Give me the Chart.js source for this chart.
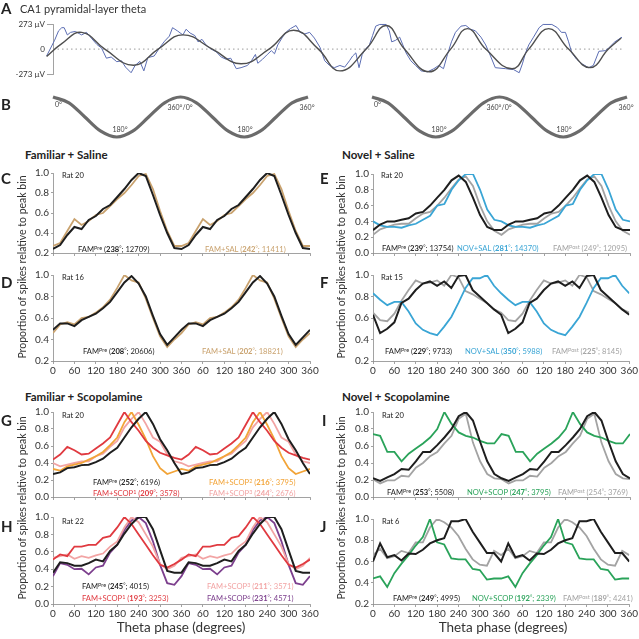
<!DOCTYPE html>
<html>
<head>
<meta charset="utf-8">
<script src="https://cdn.jsdelivr.net/npm/chart.js@4.4.1/dist/chart.umd.min.js"></script>
<style>
  html, body { margin: 0; padding: 0; background: #fff; }
  #fig { position: relative; width: 639px; height: 639px; overflow: hidden; font-family: Lato, "Open Sans", sans-serif; color: #222; }
  #fig canvas { position: absolute; }
  .t { position: absolute; white-space: nowrap; line-height: 1; z-index: 2; }
  .t sup { font-size: 72%; vertical-align: 0; position: relative; top: -0.45em; }
  .letter { font-weight: 700; font-size: 15px; }
  .head { font-weight: 700; font-size: 11.5px; }
  .lg { font-size: 7.6px; }
  .deg { font-size: 7px; color: #444; }
  .ytitle { font-size: 10.5px; color: #333; }
  .xtitle { font-size: 13.5px; color: #333; }
</style>
</head>
<body>
<div id="fig"></div>
<script>
// ---- data ----
// A: raw LFP trace and fitted theta (time in ms, amplitude in µV)
var traceMs = [0, 10, 15, 19, 22, 26, 30, 36, 44, 50, 56, 63, 69, 75, 81, 88, 94, 99, 106, 111, 117, 122, 127, 135,
  142, 148, 154, 158, 164, 171, 175, 180, 186, 190, 195, 200, 206, 213, 219, 225, 231, 238, 244, 252, 257, 262,
  265, 271, 277, 282, 286, 290, 296, 301, 306, 313, 318, 324, 330, 336, 343, 349, 355, 361, 368, 374, 380, 384,
  388, 392, 396, 401, 405, 409, 413, 418, 426, 430, 433, 438, 443, 447, 451, 457, 463, 470, 478, 486, 492, 498,
  503, 508, 513, 520, 526, 532, 538, 545, 551, 557, 563, 576, 586, 593, 597, 601, 605, 611, 618, 623, 634, 641,
  646, 651, 655, 659, 665, 672, 680, 686, 693, 701, 705, 713, 722];
var traceUv = [-75, 96, 199, 233, 233, 154, 182, 192, 154, 182, 120, 51, 10, -99, -86, -137, -127, -196, -257, -178,
  -134, -237, -93, -75, 17, 86, 141, 233, 199, 154, 216, 175, 147, 79, 106, 45, 3, -31, -86, -110, -99, -213, -202,
  -178, -127, -58, -154, -110, -58, -17, -51, 45, 130, 189, 223, 257, 182, 165, 182, 120, 20, -127, -178, -202,
  -178, -196, -127, -75, -41, -202, -58, 10, 45, 147, 250, 268, 268, 199, 79, 96, 130, 45, -41, -127, -178, -237,
  -247, -213, -178, -213, -58, 79, 182, 250, 257, 216, 199, 130, 45, -75, -202, -213, -223, -257, -161, -41, 45,
  130, 233, 268, 268, 233, 182, 182, 79, -41, -110, -161, -202, -178, -24, -17, 10, 79, 130];
var fitMs = [0, 19, 44, 73, 109, 140, 171, 208, 244, 279, 310, 341, 368, 401, 426, 449, 480, 507, 528, 551, 584,
  605, 630, 655, 682, 705, 721];
var fitUv = [-80, 60, 182, 0, -175, 0, 155, 0, -160, 0, 205, 0, -237, 0, 257, 0, -247, 0, 223, 0, -213, 0, 223, 0,
  -202, 0, 120];

// B: reference cosine (phase in degrees)
var refDeg = [0, 45, 90, 135, 180, 225, 270, 315, 360, 405, 450, 495, 540, 585, 630, 675, 720];
var refAmp = [1, 0.71, 0, -0.71, -1, -0.71, 0, 0.71, 1, 0.71, 0, -0.71, -1, -0.71, 0, 0.71, 1];

// C-J: proportion of spikes per 20° theta-phase bin (one cycle, plotted twice)
var phase = [0, 20, 40, 60, 80, 100, 120, 140, 160, 180, 200, 220, 240, 260, 280, 300, 320, 340];

var cPre = [0.24, 0.28, 0.38, 0.46, 0.44, 0.53, 0.57, 0.64, 0.68, 0.76, 0.84, 0.93, 1.0, 0.97, 0.78, 0.58, 0.40, 0.25];
var cSal = [0.27, 0.30, 0.42, 0.54, 0.48, 0.52, 0.58, 0.60, 0.67, 0.74, 0.80, 0.88, 0.97, 0.99, 0.84, 0.62, 0.42, 0.27];

var dPre = [0.49, 0.55, 0.55, 0.525, 0.58, 0.61, 0.64, 0.69, 0.75, 0.84, 0.93, 0.99, 0.92, 0.80, 0.62, 0.45, 0.35, 0.42];
var dSal = [0.46, 0.54, 0.56, 0.54, 0.60, 0.61, 0.65, 0.70, 0.77, 0.88, 1.0, 0.95, 0.93, 0.78, 0.60, 0.43, 0.33, 0.40];

var ePre = [0.29, 0.36, 0.40, 0.40, 0.42, 0.44, 0.50, 0.52, 0.60, 0.70, 0.80, 0.92, 0.98, 0.90, 0.70, 0.48, 0.33, 0.29];
var eSal = [0.40, 0.35, 0.33, 0.33, 0.32, 0.35, 0.37, 0.42, 0.47, 0.60, 0.62, 0.80, 0.92, 1.0, 1.0, 0.80, 0.55, 0.42];
var ePost = [0.23, 0.30, 0.33, 0.36, 0.37, 0.37, 0.44, 0.50, 0.52, 0.60, 0.70, 0.82, 0.93, 0.97, 0.85, 0.60, 0.40, 0.28];

var fPre = [0.63, 0.46, 0.50, 0.56, 0.74, 0.78, 0.86, 0.92, 0.94, 0.90, 0.94, 0.88, 0.99, 1.0, 0.86, 0.80, 0.74, 0.68];
var fSal = [0.83, 0.77, 0.72, 0.75, 0.75, 0.66, 0.55, 0.49, 0.46, 0.44, 0.52, 0.61, 0.74, 0.88, 0.97, 0.97, 1.0, 0.90];
var fPost = [0.65, 0.58, 0.57, 0.64, 0.76, 0.86, 0.95, 0.92, 0.93, 0.95, 0.90, 1.0, 0.98, 0.85, 0.82, 0.78, 0.74, 0.68];

var gPre = [0.27, 0.29, 0.34, 0.35, 0.375, 0.38, 0.41, 0.45, 0.52, 0.58, 0.70, 0.82, 0.92, 1.0, 0.86, 0.68, 0.55, 0.40];
var gScop1 = [0.44, 0.50, 0.59, 0.55, 0.50, 0.51, 0.57, 0.63, 0.70, 0.85, 1.0, 0.88, 0.78, 0.66, 0.58, 0.52, 0.49, 0.46];
var gScop2 = [0.33, 0.31, 0.36, 0.38, 0.40, 0.44, 0.48, 0.53, 0.61, 0.70, 0.88, 1.0, 0.85, 0.68, 0.48, 0.34, 0.27, 0.30];
var gScop3 = [0.40, 0.36, 0.38, 0.40, 0.42, 0.42, 0.48, 0.51, 0.59, 0.66, 0.82, 0.92, 1.0, 0.86, 0.70, 0.65, 0.50, 0.42];

var hPre = [0.36, 0.48, 0.47, 0.44, 0.44, 0.47, 0.51, 0.49, 0.61, 0.68, 0.81, 0.92, 1.0, 1.0, 0.86, 0.62, 0.38, 0.36];
var hScop1 = [0.51, 0.57, 0.55, 0.66, 0.66, 0.68, 0.68, 0.76, 0.78, 0.88, 1.0, 0.92, 0.80, 0.68, 0.56, 0.45, 0.42, 0.46];
var hScop3 = [0.53, 0.55, 0.57, 0.52, 0.55, 0.53, 0.56, 0.58, 0.66, 0.72, 0.88, 1.0, 0.94, 0.80, 0.66, 0.46, 0.40, 0.44];
var hScop6 = [0.32, 0.47, 0.45, 0.40, 0.405, 0.34, 0.42, 0.44, 0.59, 0.68, 0.85, 0.96, 1.0, 0.93, 0.72, 0.45, 0.24, 0.22];

var iPre = [0.22, 0.19, 0.23, 0.27, 0.33, 0.32, 0.42, 0.53, 0.53, 0.61, 0.70, 0.80, 0.95, 1.0, 0.90, 0.65, 0.42, 0.27];
var iScop = [0.74, 0.72, 0.53, 0.53, 0.42, 0.51, 0.57, 0.63, 0.70, 0.80, 1.0, 0.86, 0.76, 0.72, 0.70, 0.66, 0.63, 0.63];
var iPost = [0.21, 0.16, 0.195, 0.195, 0.25, 0.24, 0.345, 0.40, 0.48, 0.53, 0.63, 0.72, 0.92, 0.98, 0.64, 0.42, 0.27, 0.22];

var jPre = [0.60, 0.77, 0.64, 0.66, 0.61, 0.675, 0.67, 0.71, 0.77, 0.80, 0.82, 0.98, 0.98, 1.0, 0.88, 0.78, 0.68, 0.68];
var jScop = [0.44, 0.46, 0.36, 0.49, 0.58, 0.66, 0.75, 0.83, 1.0, 0.78, 0.76, 0.63, 0.62, 0.62, 0.53, 0.52, 0.43, 0.44];
var jPost = [0.66, 0.72, 0.63, 0.65, 0.70, 0.68, 0.78, 0.78, 0.92, 1.0, 0.97, 0.92, 0.84, 0.72, 0.62, 0.57, 0.56, 0.70];

// ---- colours ----
var black = "#1e1e1e", tan = "#c9a26e", grey = "#a3a3a3", blue = "#3aa5d5", red = "#e03a40",
    orange = "#f2a438", pink = "#f2a4a4", purple = "#7c3f8d", green = "#2aa35a", axisGrey = "#8a8a8a";

Chart.defaults.font.family = "Lato, 'Open Sans', sans-serif";
Chart.defaults.font.size = 10;
Chart.defaults.color = "#333";
Chart.defaults.animation = false;
Chart.defaults.plugins.legend.display = false;
Chart.defaults.plugins.tooltip.enabled = false;

var fig = document.getElementById("fig");

function addCanvas(left, top, w, h) {
  var c = document.createElement("canvas");
  c.width = w; c.height = h;
  c.style.left = left + "px"; c.style.top = top + "px";
  c.style.width = w + "px"; c.style.height = h + "px";
  fig.appendChild(c);
  return c;
}

function zip(xs, ys) {
  return xs.map(function (x, i) { return { x: x, y: ys[i] }; });
}

// one cycle drawn twice, 0-720°
function twoCycles(vals) {
  var pts = [];
  for (var k = 0; k < 2; k++) {
    phase.forEach(function (p, i) { pts.push({ x: p + 360 * k, y: vals[i] }); });
  }
  pts.push({ x: 720, y: vals[0] });
  return pts;
}

function txt(html, x, y, cls, color, align) {
  var d = document.createElement("div");
  d.className = "t " + (cls || "");
  d.innerHTML = html;
  d.style.left = x + "px"; d.style.top = y + "px";
  if (color) d.style.color = color;
  d.style.transform = align === "c" ? "translate(-50%,-50%)" : "translateY(-50%)";
  fig.appendChild(d);
  return d;
}

// ---- A: theta trace ----
var ca = addCanvas(0, 14, 639, 67);
new Chart(ca.getContext("2d"), {
  type: "line",
  data: {
    datasets: [
      { data: zip(fitMs, fitUv), borderColor: "#4f4f4f", borderWidth: 1.4, pointRadius: 0, tension: 0.45, clip: false },
      { data: zip(traceMs, traceUv), borderColor: "#5b6db3", borderWidth: 1, pointRadius: 0, clip: false },
      { data: [{ x: 8, y: 0 }, { x: 722, y: 0 }], borderColor: "#9a9a9a", borderDash: [1.5, 3], borderWidth: 1, pointRadius: 0 }
    ]
  },
  options: {
    responsive: false,
    layout: { padding: { top: 10, right: 17, bottom: 4, left: 0 } },
    scales: {
      x: { type: "linear", display: false, min: 8, max: 722 },
      y: {
        min: -273, max: 273,
        afterFit: function (s) { s.width = 53; },
        afterBuildTicks: function (s) { s.ticks = [-273, 0, 273].map(function (v) { return { value: v }; }); },
        grid: {
          drawOnChartArea: false, tickLength: 6, lineWidth: 0.8,
          color: function (c) { return c.tick && c.tick.value === 0 ? "rgba(0,0,0,0)" : axisGrey; }
        },
        border: { color: axisGrey, width: 0.8 },
        ticks: { font: { size: 8 }, padding: 2, callback: function (v) { return v === 0 ? "0" : v + " µV"; } }
      }
    }
  }
});

// ---- B: reference cosines ----
function refWave(left, w, padL, padR) {
  var c = addCanvas(left, 90, w, 55);
  new Chart(c.getContext("2d"), {
    type: "line",
    data: { datasets: [{ data: zip(refDeg, refAmp), borderColor: "#6b6b6b", borderWidth: 3.2, pointRadius: 0, cubicInterpolationMode: "monotone", clip: false }] },
    options: {
      responsive: false,
      layout: { padding: { top: 7, bottom: 8, left: padL, right: padR } },
      scales: { x: { type: "linear", display: false, min: 0, max: 720 }, y: { display: false, min: -1, max: 1 } }
    }
  });
}
refWave(0, 320, 53, 12);
refWave(320, 319, 52, 12);

// ---- C-J panels ----
function panel(box, yMin, showX, series) {
  var colLeft = box.l < 320 ? 0 : 320;
  var colW = colLeft ? 319 : 320;
  var top = Math.round(box.t) - 8;
  var xh = showX ? 16 : 4;
  var h = Math.round(box.b) - top + xh;
  var c = addCanvas(colLeft, top, colW, h);
  new Chart(c.getContext("2d"), {
    type: "line",
    data: {
      datasets: series.map(function (s) {
        return { data: twoCycles(s[0]), borderColor: s[1], borderWidth: s[2] || 1.8, pointRadius: 0, tension: 0 };
      })
    },
    options: {
      responsive: false,
      layout: { padding: { top: 8, right: colLeft + colW - box.r, left: 0, bottom: 0 } },
      scales: {
        x: {
          type: "linear", min: 0, max: 720,
          afterFit: function (s) { s.height = xh; },
          grid: { drawOnChartArea: false, tickLength: 3, color: axisGrey, lineWidth: 0.8 },
          border: { color: axisGrey, width: 0.8 },
          ticks: {
            display: showX, stepSize: 60, autoSkip: false, maxRotation: 0, padding: 1,
            callback: function (v) { return v > 360 ? v - 360 : v; }
          }
        },
        y: {
          min: yMin, max: 1,
          afterFit: function (s) { s.width = box.l - colLeft; },
          grid: { drawOnChartArea: false, tickLength: 2, color: axisGrey, lineWidth: 0.8 },
          border: { color: axisGrey, width: 0.8 },
          ticks: { stepSize: 0.2, padding: 2, callback: function (v) { return v.toFixed(1); } }
        }
      }
    }
  });
}

panel({ l: 53, r: 310, t: 173, b: 257 }, 0.2, false, [[cPre, black, 2], [cSal, tan]]);
panel({ l: 53, r: 310, t: 275, b: 361 }, 0.2, true, [[dPre, black, 2], [dSal, tan]]);
panel({ l: 373, r: 630, t: 174, b: 257 }, 0, false, [[ePre, black, 2], [eSal, blue], [ePost, grey]]);
panel({ l: 373, r: 630, t: 275, b: 361 }, 0.2, true, [[fPre, black, 2], [fSal, blue], [fPost, grey]]);
panel({ l: 53, r: 310, t: 412, b: 501 }, 0, false, [[gPre, black, 2], [gScop1, red], [gScop2, orange], [gScop3, pink]]);
panel({ l: 53, r: 310, t: 517, b: 604 }, 0, true, [[hPre, black, 2], [hScop1, red], [hScop3, pink], [hScop6, purple]]);
panel({ l: 373, r: 630, t: 412, b: 501 }, 0, false, [[iPre, black, 2], [iScop, green], [iPost, grey]]);
panel({ l: 373, r: 630, t: 519, b: 604 }, 0.2, true, [[jPre, black, 2], [jScop, green], [jPost, grey]]);

// ---- text ----
txt("A", 1, 8, "letter");
txt("CA1 pyramidal-layer theta", 20, 8, "", "#333").style.fontSize = "11px";
txt("B", 1, 104, "letter");

[0, 319].forEach(function (dx) {
  txt("0°", 55 + dx, 104, "deg");
  txt("180°", 120 + dx, 129, "deg", null, "c");
  txt("360°/0°", 180 + dx, 107, "deg", null, "c");
  txt("180°", 245 + dx, 129, "deg", null, "c");
  txt("360°", 307 + dx, 107, "deg", null, "c");
});

txt("Familiar + Saline", 25, 155, "head");
txt("Novel + Saline", 342, 155, "head");
txt("Familiar + Scopolamine", 25, 397, "head");
txt("Novel + Scopolamine", 342, 397, "head");

txt("C", 1, 178, "letter"); txt("D", 1, 282, "letter");
txt("E", 320, 178, "letter"); txt("F", 320, 282, "letter");
txt("G", 1, 420, "letter"); txt("H", 1, 526, "letter");
txt("I", 322, 420, "letter"); txt("J", 320, 526, "letter");

txt("Rat 20", 62, 176, "lg"); txt("Rat 16", 62, 278, "lg");
txt("Rat 20", 381, 176, "lg"); txt("Rat 15", 381, 278, "lg");
txt("Rat 20", 62, 416, "lg"); txt("Rat 22", 62, 522, "lg");
txt("Rat 20", 382, 416, "lg"); txt("Rat 6", 382, 522, "lg");

function lg(name, sup, deg, bold, n) {
  var d = bold ? "<b>" + deg + "</b>" : deg;
  return name + (sup ? "<sup>" + sup + "</sup>" : "") + " (" + d + "<sup>°</sup>; " + n + ")";
}
txt(lg("FAM", "Pre", 238, true, 12709), 78, 250, "lg", black);
txt(lg("FAM+SAL", "", 242, true, 11411), 205, 250, "lg", tan);
txt(lg("FAM", "Pre", 208, true, 20606), 83, 352, "lg", black);
txt(lg("FAM+SAL", "", 202, true, 18821), 202, 352, "lg", tan);

txt(lg("FAM", "Pre", 239, true, 13754), 382, 249, "lg", black);
txt(lg("NOV+SAL", "", 281, true, 14370), 457, 249, "lg", blue);
txt(lg("FAM", "Post", 249, false, 12095), 553, 249, "lg", grey);
txt(lg("FAM", "Pre", 229, true, 9733), 385, 352, "lg", black);
txt(lg("NOV+SAL", "", 350, true, 5988), 465, 352, "lg", blue);
txt(lg("FAM", "Post", 225, true, 8145), 552, 352, "lg", grey);

txt(lg("FAM", "Pre", 252, true, 6196), 93, 483, "lg", black);
txt(lg("FAM+SCOP", "1", 209, true, 3578), 93, 494, "lg", red);
txt(lg("FAM+SCOP", "2", 216, true, 3795), 209, 483, "lg", orange);
txt(lg("FAM+SCOP", "3", 244, true, 2676), 209, 494, "lg", pink);
txt(lg("FAM", "Pre", 245, true, 4015), 82, 587, "lg", black);
txt(lg("FAM+SCOP", "1", 193, true, 3253), 82, 599, "lg", red);
txt(lg("FAM+SCOP", "3", 211, true, 3571), 207, 587, "lg", pink);
txt(lg("FAM+SCOP", "6", 231, true, 4571), 207, 599, "lg", purple);

txt(lg("FAM", "Pre", 253, true, 5508), 387, 493, "lg", black);
txt(lg("NOV+SCOP", "", 247, true, 3795), 467, 493, "lg", green);
txt(lg("FAM", "Post", 254, false, 3769), 558, 493, "lg", grey);
txt(lg("FAM", "Pre", 249, true, 4995), 393, 599, "lg", black);
txt(lg("NOV+SCOP", "", 192, true, 2339), 472, 599, "lg", green);
txt(lg("FAM", "Post", 189, true, 4241), 563, 599, "lg", grey);

[[22, 267], [22, 508], [341, 267], [341, 508]].forEach(function (p) {
  var d = txt("Proportion of spikes relative to peak bin", p[0], p[1], "ytitle", null, "c");
  d.style.transform = "translate(-50%,-50%) rotate(-90deg)";
});
txt("Theta phase (degrees)", 181, 628, "xtitle", null, "c");
txt("Theta phase (degrees)", 503, 628, "xtitle", null, "c");
</script>
</body>
</html>
